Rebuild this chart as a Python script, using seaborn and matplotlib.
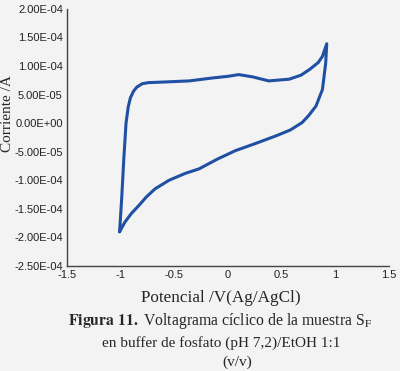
import numpy as np
import pandas as pd
import matplotlib
matplotlib.use("Agg")
import matplotlib.pyplot as plt
import seaborn as sns
from matplotlib.ticker import FuncFormatter, MultipleLocator

# Ciclo voltamétrico
potencial = [-1.01, -0.99, -0.97, -0.95, -0.93, -0.91, -0.88, -0.85, -0.80, -0.74, -0.60, -0.36, -0.15,
             0.00, 0.10, 0.23, 0.38, 0.57, 0.68, 0.76, 0.84, 0.88, 0.92,
             0.91, 0.88, 0.82, 0.75, 0.69, 0.58, 0.45, 0.25, 0.07, -0.10, -0.27,
             -0.40, -0.55, -0.68, -0.76, -0.83, -0.90, -0.96, -1.01]
corriente = [-1.90e-4, -1.30e-4, -6.0e-5, 0.0, 2.8e-5, 4.4e-5, 5.6e-5, 6.3e-5, 6.9e-5, 7.1e-5, 7.2e-5, 7.4e-5, 7.9e-5,
             8.2e-5, 8.5e-5, 8.1e-5, 7.4e-5, 7.7e-5, 8.4e-5, 9.4e-5, 1.06e-4, 1.17e-4, 1.39e-4,
             1.05e-4, 5.9e-5, 3.0e-5, 1.3e-5, 0.1e-5, -1.2e-5, -2.2e-5, -3.6e-5, -4.8e-5, -6.3e-5, -8.0e-5,
             -8.8e-5, -1.0e-4, -1.15e-4, -1.29e-4, -1.44e-4, -1.58e-4, -1.73e-4, -1.90e-4]

BG = "#f3f3f3"
LINE = "#1f50a3"

sns.set_style("white")
plt.rcParams["font.family"] = ["Liberation Sans", "DejaVu Sans"]
plt.rcParams["mathtext.fontset"] = "stix"

fig = plt.figure(figsize=(4.0, 3.71), dpi=100)
fig.patch.set_facecolor(BG)
ax = fig.add_axes([0.1675, 0.283, 0.805, 0.693])
ax.set_facecolor(BG)

df = pd.DataFrame({"E": potencial, "I": corriente})
sns.lineplot(data=df, x="E", y="I", sort=False, estimator=None,
             color=LINE, linewidth=2.2, ax=ax)

ax.set_xlim(-1.5, 1.5)
ax.set_ylim(-2.5e-4, 2.0e-4)
ax.xaxis.set_major_locator(MultipleLocator(0.5))
ax.yaxis.set_major_locator(MultipleLocator(5e-5))
ax.xaxis.set_major_formatter(FuncFormatter(lambda v, p: f"{v:g}"))
ax.yaxis.set_major_formatter(FuncFormatter(lambda v, p: f"{(0.0 if abs(v) < 1e-12 else v):.2E}"))
ax.tick_params(axis="both", length=0, labelsize=8, colors="#222222", pad=3)
ax.set_xlabel("")
ax.set_ylabel("")

for s in ["top", "right"]:
    ax.spines[s].set_visible(False)
for s in ["left", "bottom"]:
    ax.spines[s].set_color("#444444")
    ax.spines[s].set_linewidth(1.0)

serif = ["Liberation Serif", "DejaVu Serif"]
fig.text(8 / 400, 1 - 114 / 371, "Corriente /A", rotation=90, ha="center", va="center",
         family=serif, fontsize=11)
fig.text(221 / 400, 1 - 298 / 371, "Potencial /V(Ag/AgCl)", ha="center", va="center",
         family=serif, fontsize=12.3)

fig.text(220 / 400, 1 - 321 / 371,
         r"$\bf{Figura\ 11.}$ Voltagrama cíclico de la muestra S$_\mathrm{F}$",
         ha="center", va="center", family=serif, fontsize=11.3)
fig.text(221 / 400, 1 - 343 / 371, "en buffer de fosfato (pH 7,2)/EtOH 1:1",
         ha="center", va="center", family=serif, fontsize=11)
fig.text(237 / 400, 1 - 362 / 371, "(v/v)",
         ha="center", va="center", family=serif, fontsize=11)

fig.savefig("out.png", dpi=100, facecolor=fig.get_facecolor())
